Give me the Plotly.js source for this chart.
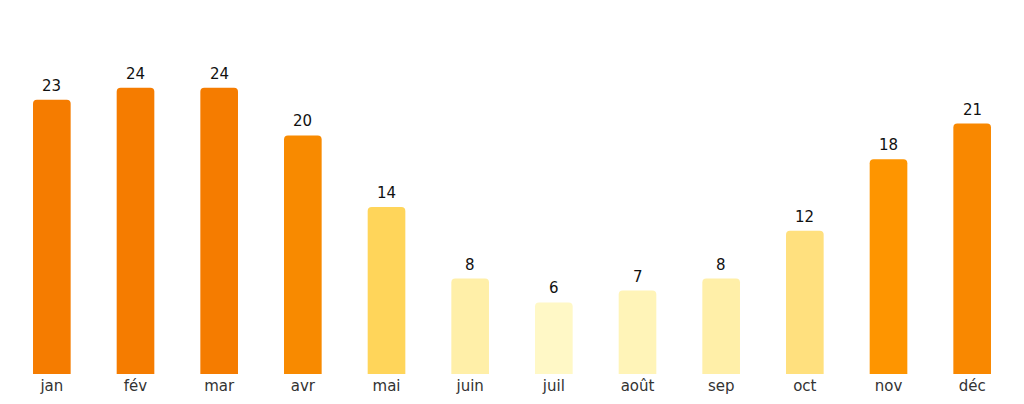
<!DOCTYPE html>
<html>
<head>
<meta charset="utf-8">
<script src="https://cdn.plot.ly/plotly-3.0.1.min.js"></script>
<style>html,body{margin:0;padding:0;background:#fff;}#chart{width:1024px;height:404px;}</style>
</head>
<body>
<div id="chart"></div>
<script>
const months = ["jan","fév","mar","avr","mai","juin","juil","août","sep","oct","nov","déc"];
const values = [23,24,24,20,14,8,6,7,8,12,18,21];
const barColors = ["#F57C00","#F57C00","#F57C00","#F88A00","#FFD55A","#FFEFA8","#FFF8C6","#FFF4B8","#FFEFA8","#FFE07E","#FE9500","#F98800"];

const trace = {
  type: "bar",
  x: months,
  y: values,
  width: 0.45,
  marker: {color: barColors, cornerradius: 4, line: {width: 0}},
  hoverinfo: "x+y"
};

const annotations = months.map((m, i) => ({
  x: m, y: values[i], xref: "x", yref: "y",
  text: String(values[i]), showarrow: false,
  yanchor: "bottom", yshift: 3,
  font: {family: "DejaVu Sans", size: 15, color: "#111"}
}));

const layout = {
  width: 1024, height: 404,
  margin: {l: 10, r: 10, t: 40, b: 30},
  paper_bgcolor: "#fff", plot_bgcolor: "#fff",
  showlegend: false,
  bargap: 0.55,
  xaxis: {
    showgrid: false, zeroline: false, showline: false, ticks: "",
    ticklabelstandoff: 1,
    tickfont: {family: "DejaVu Sans", size: 15, color: "#333"}
  },
  yaxis: {range: [0, 28], visible: false, showgrid: false, zeroline: false},
  annotations: annotations
};

Plotly.newPlot("chart", [trace], layout, {displayModeBar: false, staticPlot: true});
</script>
</body>
</html>
